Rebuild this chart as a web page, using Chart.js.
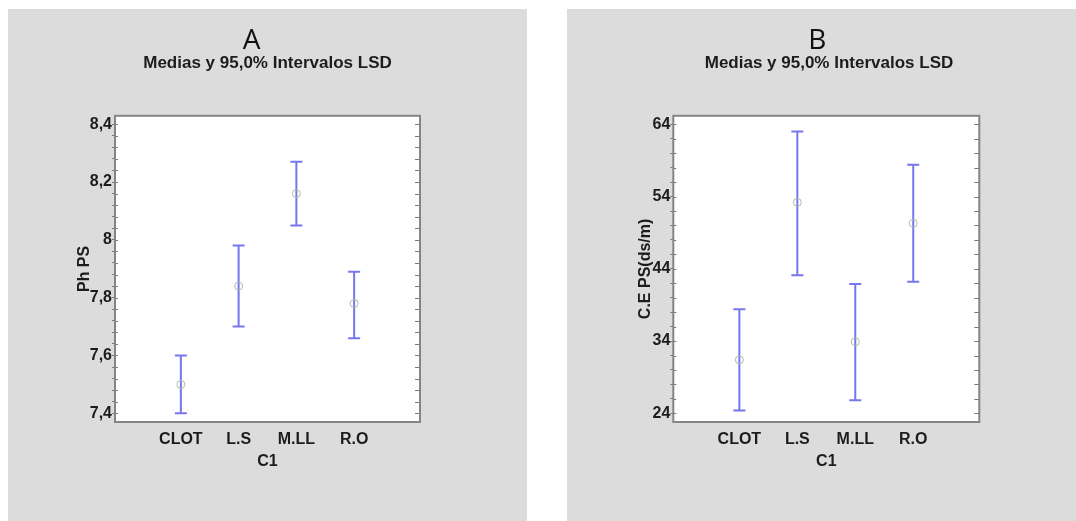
<!DOCTYPE html>
<html>
<head>
<meta charset="utf-8">
<script src="https://cdn.jsdelivr.net/npm/chart.js@4.4.0/dist/chart.umd.min.js"></script>
<style>
    html, body { margin: 0; padding: 0; background: #fff; }
    body { width: 1076px; height: 521px; position: relative; overflow: hidden; font-family: "Liberation Sans", Arial, sans-serif; }
    .panel { position: absolute; top: 9px; height: 512px; background: #dcdcdc; }
    #panelA { left: 8px; width: 519px; }
    #panelB { left: 567px; width: 509px; }
    .panel canvas { position: absolute; left: 0; top: 0; }
    .letra { position: absolute; font-family: "Open Sans", sans-serif; font-size: 28px; line-height: 28px; color: #111; transform: translate(-50%, -50%); }
</style>
</head>
<body>
<div class="panel" id="panelA">
    <canvas id="chartA" width="519" height="512"></canvas>
    <div class="letra" style="left:243.6px; top:29px;">A</div>
</div>
<div class="panel" id="panelB">
    <canvas id="chartB" width="509" height="512"></canvas>
    <div class="letra" style="left:250.4px; top:29px;">B</div>
</div>
<script>
// Datos
const categorias = ['CLOT', 'L.S', 'M.LL', 'R.O'];

// A: Ph PS
const phMedia = [7.50, 7.84, 8.16, 7.78];
const phInferior = [7.40, 7.70, 8.05, 7.66];
const phSuperior = [7.60, 7.98, 8.27, 7.89];
const phTicks = [7.4, 7.6, 7.8, 8, 8.2, 8.4];

// B: C.E PS(ds/m)
const ceMedia = [31.4, 53.2, 33.9, 50.3];
const ceInferior = [24.4, 43.1, 25.8, 42.2];
const ceSuperior = [38.4, 63.0, 41.9, 58.4];
const ceTicks = [24, 34, 44, 54, 64];

const colorBarra = '#7676ee';
const colorMedia = '#b4b9a2';
const colorTexto = '#1c1c1c';
const fuenteNegrita = { family: '"Liberation Sans", Arial, sans-serif', size: 16, weight: 'bold' };

// marco gris del area del grafico + marcas interiores
const marcoPlugin = {
    id: 'marco',
    beforeDraw(chart) {
        const a = chart.chartArea;
        const ctx = chart.ctx;
        ctx.save();
        ctx.fillStyle = '#ffffff';
        ctx.fillRect(a.left, a.top, a.right - a.left, a.bottom - a.top);
        ctx.restore();
    },
    afterDraw(chart) {
        const a = chart.chartArea;
        const ctx = chart.ctx;
        const y = chart.scales.y;
        ctx.save();
        ctx.strokeStyle = '#7a7a7a';
        ctx.lineWidth = 1;
        y.ticks.forEach(t => {
            const py = Math.round(y.getPixelForValue(t.value)) + 0.5;
            ctx.beginPath();
            ctx.moveTo(a.left, py);
            ctx.lineTo(a.left + 3, py);
            ctx.moveTo(a.right - 5, py);
            ctx.lineTo(a.right, py);
            ctx.stroke();
        });
        ctx.lineWidth = 2;
        ctx.strokeStyle = '#858585';
        ctx.strokeRect(a.left, a.top, a.right - a.left, a.bottom - a.top);
        ctx.restore();
    }
};

function formatoComa(v) {
    return String(Math.round(v * 1000) / 1000).replace('.', ',');
}

function crearGrafico(id, medias, inferior, superior, ticks, yMin, yMax, tituloY, geo) {
    const ctx = document.getElementById(id).getContext('2d');

    const datasets = [];
    datasets.push({
        data: medias.map((v, i) => ({ x: i, y: v })),
        pointStyle: 'circle',
        pointRadius: 4,
        borderColor: colorMedia,
        backgroundColor: 'rgba(255,255,255,0)',
        borderWidth: 1
    });
    datasets.push({
        data: inferior.map((v, i) => ({ x: i, y: v })).concat(superior.map((v, i) => ({ x: i, y: v }))),
        pointStyle: 'line',
        pointRadius: 6,
        borderColor: colorBarra,
        borderWidth: 2
    });
    categorias.forEach((c, i) => {
        datasets.push({
            data: [{ x: i, y: inferior[i] }, { x: i, y: superior[i] }],
            showLine: true,
            borderColor: colorBarra,
            borderWidth: 2,
            pointRadius: 0
        });
    });

    // marcas menores: 4 entre cada par de principales
    const paso = ticks[1] - ticks[0];
    const todas = [];
    ticks.forEach((t, k) => {
        todas.push(t);
        if (k < ticks.length - 1) {
            for (let m = 1; m < 5; m++) todas.push(t + paso * m / 5);
        }
    });

    return new Chart(ctx, {
        type: 'scatter',
        data: { datasets: datasets },
        options: {
            responsive: false,
            animation: false,
            layout: { padding: { left: geo.padL, right: 0, top: 0, bottom: 0 } },
            plugins: {
                legend: { display: false },
                tooltip: { enabled: false },
                title: {
                    display: true,
                    text: 'Medias y 95,0% Intervalos LSD',
                    color: colorTexto,
                    font: { family: fuenteNegrita.family, size: 17, weight: 'bold' },
                    padding: { top: 44.6, bottom: 41.8 }
                }
            },
            scales: {
                x: {
                    type: 'linear',
                    min: -1.14,
                    max: 4.14,
                    afterBuildTicks(scale) {
                        scale.ticks = categorias.map((c, i) => ({ value: i }));
                    },
                    afterFit(scale) { scale.height = 99; },
                    grid: { display: false, drawTicks: false },
                    border: { display: false },
                    ticks: {
                        autoSkip: false,
                        maxRotation: 0,
                        padding: 8,
                        color: colorTexto,
                        font: fuenteNegrita,
                        callback: v => categorias[v]
                    },
                    title: {
                        display: true,
                        text: 'C1',
                        color: colorTexto,
                        font: fuenteNegrita,
                        padding: { top: 0, bottom: 49.5 }
                    }
                },
                y: {
                    min: yMin,
                    max: yMax,
                    afterBuildTicks(scale) {
                        scale.ticks = todas.map(v => ({ value: v }));
                    },
                    afterFit(scale) { scale.width = geo.yW; },
                    grid: { drawOnChartArea: false, tickLength: 3, color: '#7a7a7a' },
                    border: { display: false },
                    ticks: {
                        autoSkip: false,
                        padding: 0,
                        color: colorTexto,
                        font: fuenteNegrita,
                        callback: v => ticks.some(t => Math.abs(t - v) < 1e-6) ? formatoComa(v) : ''
                    },
                    title: {
                        display: true,
                        text: tituloY,
                        color: colorTexto,
                        font: fuenteNegrita,
                        padding: { top: geo.tituloY, bottom: 0 }
                    }
                },
                yR: {
                    position: 'right',
                    afterFit(scale) { scale.width = geo.derW; },
                    grid: { display: false },
                    border: { display: false },
                    ticks: { display: false }
                }
            }
        },
        plugins: [marcoPlugin]
    });
}

crearGrafico('chartA', phMedia, phInferior, phSuperior, phTicks, 7.370, 8.429, 'Ph PS',
    { padL: 0, yW: 107, derW: 107, tituloY: 67.4 });
crearGrafico('chartB', ceMedia, ceInferior, ceSuperior, ceTicks, 22.8, 65.18, 'C.E PS(ds/m)',
    { padL: 15, yW: 91.3, derW: 96.7, tituloY: 54.4 });
</script>
</body>
</html>
